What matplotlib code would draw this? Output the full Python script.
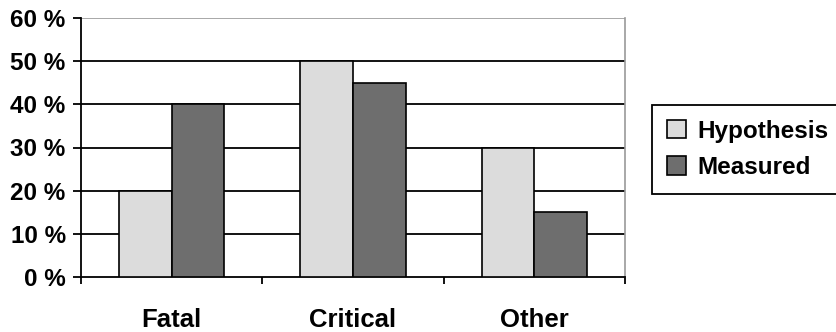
import matplotlib.pyplot as plt
import numpy as np

plt.rcParams['font.family'] = ['Liberation Sans', 'DejaVu Sans']
plt.rcParams['font.weight'] = 'bold'

categories = ["Fatal", "Critical", "Other"]
hypothesis = [20, 50, 30]
measured = [40, 45, 15]
yticks = [0, 10, 20, 30, 40, 50, 60]

fig = plt.figure(figsize=(8.37, 3.32), dpi=100)
ax = fig.add_axes([81 / 837, 1 - 277 / 332, (625 - 81) / 837, (277 - 18) / 332])

x = np.arange(len(categories))
w = 0.29
ax.bar(x - w / 2, hypothesis, w, color="#dcdcdc", edgecolor="black", linewidth=1.2,
       label="Hypothesis", zorder=3)
ax.bar(x + w / 2, measured, w, color="#6e6e6e", edgecolor="black", linewidth=1.2,
       label="Measured", zorder=3)

ax.set_xlim(-0.5, len(categories) - 0.5)
ax.set_ylim(0, 60)

# gridlines
for v in yticks[1:-1]:
    ax.axhline(v, color="black", linewidth=1.3, zorder=1)
ax.axhline(60, color="#999999", linewidth=1.2, zorder=1)

ax.set_yticks(yticks)
ax.set_yticklabels([f"{v} %" for v in yticks], fontsize=17.5, fontweight="bold")
ax.set_xticks(np.arange(-0.5, len(categories), 1.0))
ax.set_xticklabels([])
ax.set_xticks(x, minor=True)
ax.set_xticklabels(categories, minor=True, fontsize=18.5, fontweight="bold")
ax.tick_params(axis="x", which="minor", length=0, pad=22)
ax.tick_params(axis="x", which="major", direction="out", length=5, width=1.3)
ax.tick_params(axis="y", direction="out", length=6, width=1.3, pad=5)

ax.spines["top"].set_visible(False)
ax.spines["right"].set_color("#999999")
ax.spines["right"].set_linewidth(1.2)
ax.spines["left"].set_linewidth(1.3)
ax.spines["bottom"].set_linewidth(1.3)

# legend box runs past the right edge of the picture
leg = fig.legend(loc="upper left", bbox_to_anchor=(652 / 837, 1 - 105 / 332, 0.3, 0),
                 bbox_transform=fig.transFigure, mode="expand", borderaxespad=0,
                 fancybox=False, edgecolor="black", prop={"size": 17.5, "weight": "bold"},
                 handlelength=0.8, handleheight=0.8, handletextpad=0.45,
                 borderpad=0.6, labelspacing=0.55, framealpha=1)
leg.get_frame().set_linewidth(1.3)
leg._legend_box.align = "left"

fig.savefig("out.png", dpi=100)
